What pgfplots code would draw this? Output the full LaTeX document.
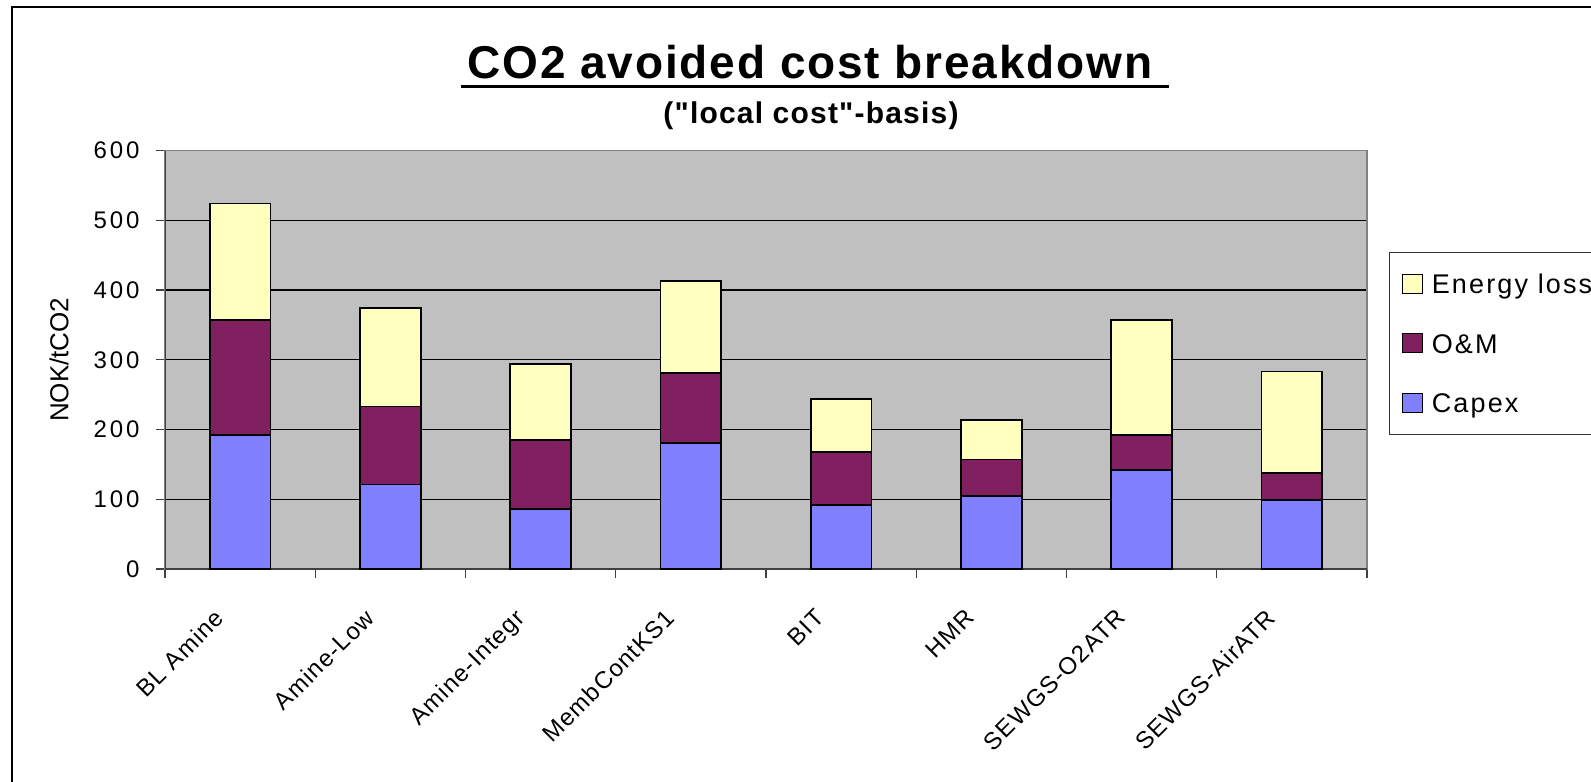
\documentclass[border=0pt]{standalone}
\usepackage{fontspec}
\setmainfont{Liberation Sans}
\newfontfamily\tickfont{Liberation Sans}[LetterSpace=12]
\newfontfamily\catfont{Liberation Sans}[LetterSpace=5]
\newfontfamily\legfont{Liberation Sans}[LetterSpace=8]
\newfontfamily\ttlfont{Liberation Sans}[LetterSpace=4]
\usepackage{pgfplots}
\usepackage{pgfplotstable}
\pgfplotsset{compat=1.18}

\definecolor{capexblue}{RGB}{128,128,255}
\definecolor{omplum}{RGB}{128,32,96}
\definecolor{energyyellow}{RGB}{255,255,192}
\definecolor{plotgray}{RGB}{192,192,192}
\definecolor{bordergray}{RGB}{128,128,128}
\definecolor{axisdark}{RGB}{64,64,64}

% components per case (NOK/tCO2)
\pgfplotstableread{
x capex om energy
0 192 165 167
1 121 112 141
2  86  99 109
3 181 100 132
4  92  76  76
5 105  52  57
6 142  50 165
7  99  39 145
}\costdata

\begin{document}
\begin{tikzpicture}
\useasboundingbox (0,0) rectangle (795.5pt,-391pt);
\draw[line width=1pt] (6pt,-3.4pt) rectangle (820pt,-420pt);

\node[font=\ttlfont\bfseries\fontsize{23}{26}\selectfont, inner sep=0pt, anchor=base] (t) at (405pt,-39pt) {CO2 avoided cost breakdown};
\draw[line width=1.5pt] ([xshift=-3pt,yshift=-4pt]t.base west) -- ([xshift=8pt,yshift=-4pt]t.base east);
\node[font=\ttlfont\bfseries\fontsize{15}{18}\selectfont, inner sep=0pt, anchor=base] at (405.5pt,-61.5pt) {("local cost"-basis)};

\begin{axis}[
  at={(82.5pt,-284.5pt)}, anchor=south west,
  scale only axis, width=601pt, height=209.2pt,
  ybar stacked, bar width=30.4pt,
  xmin=-0.5, xmax=7.5, ymin=0, ymax=600,
  xtick={-0.5,0.5,...,7.5}, xticklabels={,,,,,,,,},
  extra x ticks={0,1,2,3,4,5,6,7},
  extra x tick labels={BL Amine,Amine-Low,Amine-Integr,MembContKS1,BIT,HMR,SEWGS-O2ATR,SEWGS-AirATR},
  extra x tick style={major tick length=0pt},
  x tick label style={font=\catfont\fontsize{12}{14}\selectfont, inner sep=0pt, xshift=-13.5pt, yshift=-19pt, rotate=45, anchor=north east},
  ytick={0,100,...,600},
  /pgf/number format/assume math mode=true,
  y tick label style={font=\tickfont\fontsize{12}{14}\selectfont, inner sep=0pt, xshift=-8.1pt},
  major tick length=4.5pt, tick align=outside, tick pos=left,
  tick style={axisdark, line width=0.6pt},
  ymajorgrids, grid style={black, line width=0.6pt},
  axis background/.style={fill=plotgray},
  axis line style={bordergray, line width=0.8pt},
  ylabel={NOK/tCO2},
  ylabel style={font=\fontsize{13}{15}\selectfont, at={(axis description cs:-0.0882,0.5)}, anchor=center},
  reverse legend,
  legend cell align=left,
  legend image code/.code={\draw[#1, draw=black, line width=0.6pt] (0pt,-4.75pt) rectangle (10pt,4.75pt);},
  legend style={at={(1.0183,0.7577)}, anchor=north west, draw=black!80, line width=0.6pt, fill=white,
    font=\legfont\fontsize{13.5}{16}\selectfont, row sep=16pt, column sep=4.5pt,
    inner xsep=6pt, inner ysep=8.85pt,
    nodes={inner sep=0pt, text height=11.7pt, text depth=2pt}},
  every axis plot/.append style={draw=black, line width=0.8pt},
]
\addplot[fill=capexblue] table[x=x, y=capex] {\costdata};
\addplot[fill=omplum] table[x=x, y=om] {\costdata};
\addplot[fill=energyyellow] table[x=x, y=energy] {\costdata};
\legend{Capex,O\&M,Energy loss}
\draw[axisdark, line width=1pt] (rel axis cs:0,1) -- (rel axis cs:0,0) -- (rel axis cs:1,0);
\end{axis}
\end{tikzpicture}
\end{document}
